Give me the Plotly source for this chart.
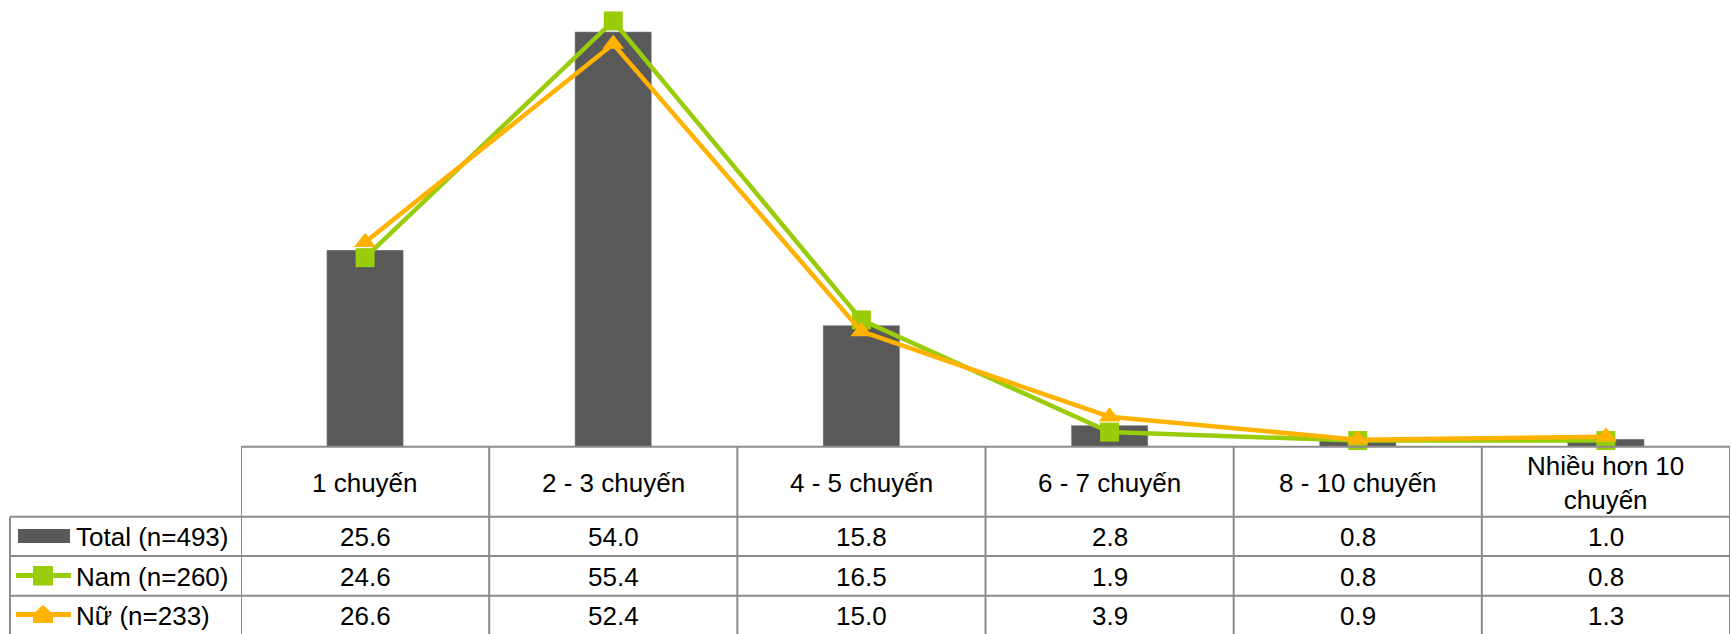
import plotly.graph_objects as go

# Chart data
categories = ["1 chuyến", "2 - 3 chuyến", "4 - 5 chuyến", "6 - 7 chuyến",
              "8 - 10 chuyến", "Nhiều hơn 10<br>chuyến"]
total_vals = [25.6, 54.0, 15.8, 2.8, 0.8, 1.0]
nam_vals = [24.6, 55.4, 16.5, 1.9, 0.8, 0.8]
nu_vals = [26.6, 52.4, 15.0, 3.9, 0.9, 1.3]
series_names = ["Total (n=493)", "Nam (n=260)", "Nữ (n=233)"]

W, H = 1731, 634
BAR_COLOR = "#595959"
GREEN = "#99CC0A"
ORANGE = "#FFB300"
GRID = "#8C8C8C"
FONT = "Liberation Sans, Arial, sans-serif"
FS = 26

# layout geometry in pixels
X0, X1 = 241, 1730          # table / plot horizontal span
LEG_X = 10                  # left edge of legend column
Y_BASE = 446.7              # bar baseline = top of table
ROW_Y = [446.7, 516.7, 556.0, 595.7, 634.0]
PX_PER_UNIT = 7.685


def px(x):
    return x / W


def py(y):
    return 1 - y / H


fig = go.Figure()

fig.add_trace(go.Bar(x=categories, y=total_vals, marker_color=BAR_COLOR,
                     width=0.31, name=series_names[0]))
fig.add_trace(go.Scatter(x=categories, y=nam_vals, mode="lines+markers",
                         line=dict(color=GREEN, width=4.5),
                         marker=dict(symbol="square", size=19, color=GREEN),
                         cliponaxis=False, name=series_names[1]))
fig.add_trace(go.Scatter(x=categories, y=nu_vals, mode="lines+markers",
                         line=dict(color=ORANGE, width=4.5),
                         marker=dict(symbol="triangle-up", size=19, color=ORANGE),
                         cliponaxis=False, name=series_names[2]))

shapes = []
line_style = dict(color=GRID, width=2)

# horizontal table rules (the bottom edge runs off the page)
shapes.append(dict(type="line", xref="paper", yref="paper",
                   x0=px(X0), x1=px(X1), y0=py(ROW_Y[0]), y1=py(ROW_Y[0]),
                   line=line_style))
for yy in ROW_Y[1:-1]:
    shapes.append(dict(type="line", xref="paper", yref="paper",
                       x0=px(LEG_X), x1=px(X1), y0=py(yy), y1=py(yy),
                       line=line_style))
# vertical table rules
shapes.append(dict(type="line", xref="paper", yref="paper",
                   x0=px(LEG_X), x1=px(LEG_X), y0=py(ROW_Y[1]), y1=py(ROW_Y[-1]),
                   line=line_style))
for k in range(len(categories) + 1):
    shapes.append(dict(type="line", xref="x", yref="paper",
                       x0=k - 0.5, x1=k - 0.5, y0=py(ROW_Y[0]), y1=py(ROW_Y[-1]),
                       line=line_style))

# legend keys
shapes.append(dict(type="rect", xref="paper", yref="paper",
                   x0=px(18), x1=px(70), y0=py(529), y1=py(543),
                   fillcolor=BAR_COLOR, line=dict(width=0)))
shapes.append(dict(type="line", xref="paper", yref="paper",
                   x0=px(16), x1=px(71), y0=py(575.5), y1=py(575.5),
                   line=dict(color=GREEN, width=5)))
shapes.append(dict(type="rect", xref="paper", yref="paper",
                   x0=px(33), x1=px(53), y0=py(566), y1=py(585.5),
                   fillcolor=GREEN, line=dict(width=0)))
shapes.append(dict(type="line", xref="paper", yref="paper",
                   x0=px(16), x1=px(71), y0=py(614.5), y1=py(614.5),
                   line=dict(color=ORANGE, width=5)))
shapes.append(dict(type="path", xref="paper", yref="paper",
                   path=(f"M {px(33)},{py(623)} L {px(33)},{py(614)} "
                         f"L {px(43)},{py(605)} L {px(53)},{py(614)} "
                         f"L {px(53)},{py(623)} Z"),
                   fillcolor=ORANGE, line=dict(width=0)))

annotations = []
# category header row
for cat in categories:
    annotations.append(dict(x=cat, xref="x", y=py((ROW_Y[0] + ROW_Y[1]) / 2 + 1),
                            yref="paper", text=cat, showarrow=False,
                            font=dict(family=FONT, size=FS, color="black"),
                            xanchor="center", yanchor="middle"))
# value rows and row labels
for r, (name, vals) in enumerate(zip(series_names, [total_vals, nam_vals, nu_vals])):
    yc = py((ROW_Y[r + 1] + ROW_Y[r + 2]) / 2 + 1)
    annotations.append(dict(x=px(74), xref="paper", y=yc, yref="paper",
                            text=name, showarrow=False, xanchor="left",
                            yanchor="middle",
                            font=dict(family=FONT, size=FS, color="black")))
    for cat, v in zip(categories, vals):
        annotations.append(dict(x=cat, xref="x", y=yc, yref="paper",
                                text=f"{v:.1f}", showarrow=False,
                                xanchor="center", yanchor="middle",
                                font=dict(family=FONT, size=FS, color="black")))

fig.update_layout(
    width=W, height=H,
    margin=dict(l=0, r=0, t=0, b=0),
    paper_bgcolor="white", plot_bgcolor="white",
    showlegend=False,
    shapes=shapes,
    annotations=annotations,
    xaxis=dict(domain=[px(X0), px(X1)], range=[-0.5, len(categories) - 0.5],
               showticklabels=False, showgrid=False, zeroline=False,
               showline=False, ticks=""),
    yaxis=dict(domain=[py(Y_BASE), 1], range=[0, Y_BASE / PX_PER_UNIT],
               showticklabels=False, showgrid=False, zeroline=False,
               showline=False, ticks=""),
)

fig.write_html("out.html")
